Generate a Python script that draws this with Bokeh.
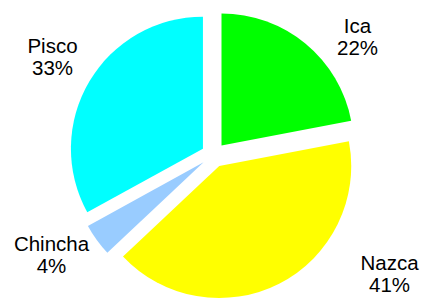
import math
from bokeh.plotting import figure
from bokeh.models import Range1d, ColumnDataSource
from bokeh.core.properties import value
from bokeh.embed import file_html
from bokeh.resources import INLINE

# ---- data ----
categories = ["Ica", "Nazca", "Chincha", "Pisco"]
shares = [22, 41, 4, 33]
colors = ["#00FF00", "#FFFF00", "#99CCFF", "#00FFFF"]

# ---- layout (pixels, origin at pie centre, y up) ----
R = 132.0
EXPLODE = 12.4
CX, CY = 213.1, 154.5          # pie centre in picture pixels
W, H = 421, 299
# label block centre-x and name anchor y (picture pixels)
label_xy = [(357, 25), (389, 262), (51, 243), (52, 45)]
LINE_GAP = 21.5

total = float(sum(shares))
starts, ends, xs, ys = [], [], [], []
a = math.pi / 2
for s in shares:
    sweep = 2 * math.pi * s / total
    st, en = a, a - sweep
    mid = (st + en) / 2
    starts.append(st)
    ends.append(en)
    xs.append(EXPLODE * math.cos(mid))
    ys.append(EXPLODE * math.sin(mid))
    a = en

src = ColumnDataSource(dict(x=xs, y=ys, start=starts, end=ends, color=colors))

p = figure(width=W, height=H,
           x_range=Range1d(0 - CX, W - CX),
           y_range=Range1d(CY - H, CY - 0),
           toolbar_location=None, output_backend="svg",
           min_border=0)
p.axis.visible = False
p.grid.visible = False
p.outline_line_color = None
p.background_fill_color = "white"
p.border_fill_color = "white"

p.wedge(x="x", y="y", radius=R, start_angle="start", end_angle="end",
        direction="clock", fill_color="color", line_color=None, source=src)

names_src = ColumnDataSource(dict(
    x=[lx - CX for lx, ly in label_xy],
    y=[CY - ly for lx, ly in label_xy],
    t=categories))
pct_src = ColumnDataSource(dict(
    x=[lx - CX for lx, ly in label_xy],
    y=[CY - ly - LINE_GAP for lx, ly in label_xy],
    t=[f"{round(100 * s / total)}%" for s in shares]))

for s in (names_src, pct_src):
    p.text(x="x", y="y", text="t", source=s,
           text_font=value("Liberation Sans"), text_font_size="20.5px",
           text_align="center", text_baseline="alphabetic",
           text_color="#000000")

open("out.html", "w").write(file_html(p, INLINE))
